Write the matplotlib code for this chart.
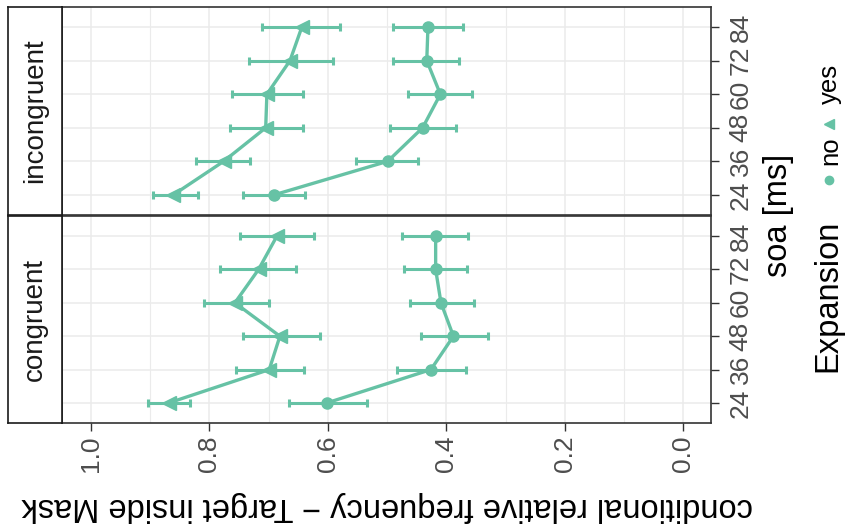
import matplotlib.pyplot as plt
from matplotlib.lines import Line2D
import numpy as np

plt.rcParams['font.family'] = ['Liberation Sans', 'DejaVu Sans']

# data (chart is drawn rotated: frequency runs right-to-left, soa bottom-to-top)
soa = ['24', '36', '48', '60', '72', '84']
conditions = ['congruent', 'incongruent']

cong_yes = [0.869, 0.699, 0.681, 0.757, 0.717, 0.686]
cong_yes_lo = [0.832, 0.640, 0.614, 0.700, 0.654, 0.623]
cong_yes_hi = [0.904, 0.756, 0.744, 0.809, 0.782, 0.749]
cong_no = [0.602, 0.426, 0.388, 0.409, 0.418, 0.418]
cong_no_lo = [0.534, 0.367, 0.330, 0.354, 0.365, 0.363]
cong_no_hi = [0.666, 0.484, 0.443, 0.462, 0.472, 0.475]

incong_yes = [0.861, 0.776, 0.705, 0.703, 0.664, 0.644]
incong_yes_lo = [0.820, 0.731, 0.642, 0.642, 0.592, 0.579]
incong_yes_hi = [0.896, 0.823, 0.766, 0.762, 0.734, 0.711]
incong_no = [0.691, 0.499, 0.440, 0.410, 0.433, 0.431]
incong_no_lo = [0.639, 0.447, 0.383, 0.356, 0.378, 0.371]
incong_no_hi = [0.743, 0.552, 0.495, 0.464, 0.490, 0.490]

panels = {
    'congruent': [(cong_no, cong_no_lo, cong_no_hi, 'o'),
                  (cong_yes, cong_yes_lo, cong_yes_hi, '<')],
    'incongruent': [(incong_no, incong_no_lo, incong_no_hi, 'o'),
                    (incong_yes, incong_yes_lo, incong_yes_hi, '<')],
}

col = '#66C2A5'
W, H = 848, 529

fig = plt.figure(figsize=(W / 100, H / 100), dpi=100)


def px(x0, y0, x1, y1):
    # pixel box -> figure fraction
    return [x0 / W, 1 - y1 / H, (x1 - x0) / W, (y1 - y0) / H]


boxes = {'incongruent': (7, 215), 'congruent': (216, 423)}
pos = np.arange(1, len(soa) + 1)

for cond in conditions:
    y0, y1 = boxes[cond]
    ax = fig.add_axes(px(62, y0, 711, y1))
    for mean, lo, hi, mk in panels[cond]:
        mean = np.array(mean)
        err = [mean - np.array(lo), np.array(hi) - mean]
        ax.errorbar(mean, pos, xerr=err, fmt='none', ecolor=col,
                    elinewidth=2.2, capsize=2.6, capthick=2.2, zorder=3)
        ax.plot(mean, pos, color=col, lw=2.4, marker=mk,
                ms=8 if mk == 'o' else 10, zorder=4)
    ax.set_xlim(1.049, -0.047)
    ax.set_ylim(0.4, 6.6)
    ax.set_xticks([1.0, 0.8, 0.6, 0.4, 0.2, 0.0])
    ax.set_xticks([0.9, 0.7, 0.5, 0.3, 0.1], minor=True)
    ax.set_yticks(pos)
    ax.set_yticklabels(soa, rotation=90, va='center')
    ax.yaxis.tick_right()
    ax.grid(True, which='major', color='#EBEBEB', lw=1.1, zorder=0)
    ax.grid(True, which='minor', axis='x', color='#EBEBEB', lw=0.8, zorder=0)
    ax.tick_params(axis='y', which='major', length=5.8, width=1, color='#333333',
                   labelcolor='#4D4D4D', labelsize=19, pad=7)
    ax.tick_params(axis='x', which='minor', length=0)
    if cond == 'congruent':
        ax.set_xticklabels(['1.0', '0.8', '0.6', '0.4', '0.2', '0.0'],
                           rotation=90, ha='center', va='top')
        ax.tick_params(axis='x', which='major', length=5.8, width=1, color='#333333',
                       labelcolor='#4D4D4D', labelsize=19, pad=3)
    else:
        ax.tick_params(axis='x', which='major', length=0, labelbottom=False)
    for s in ax.spines.values():
        s.set_color('#333333')
        s.set_linewidth(1.2)
    ax.set_axisbelow(True)

    # strip
    sx = fig.add_axes(px(8, y0, 62, y1))
    sx.set_xticks([])
    sx.set_yticks([])
    for s in sx.spines.values():
        s.set_color('#1A1A1A')
        s.set_linewidth(1.2)
    sx.text(0.5, 0.5, cond, rotation=90, ha='center', va='center',
            fontsize=20, color='#1A1A1A', transform=sx.transAxes)

fig.text(387 / W, 1 - 506 / H, 'conditional relative frequency \u2212 Target inside Mask',
         rotation=180, ha='center', va='center', fontsize=23.5, color='black')
fig.text(779 / W, 1 - 215 / H, 'soa [ms]', rotation=90, ha='center', va='center',
         fontsize=23.5, color='black')

# legend (rotated)
lx = 828 / W
fig.text(lx, 1 - 372 / H, 'Expansion', rotation=90, ha='center', va='bottom',
         fontsize=23.5, color='black')
fig.add_artist(Line2D([lx + 1 / W], [1 - 180 / H], transform=fig.transFigure,
                      marker='o', ms=6, color=col, lw=0))
fig.text(lx + 2 / W, 1 - 165 / H, 'no', rotation=90, ha='center', va='bottom',
         fontsize=18.5, color='black')
fig.add_artist(Line2D([lx + 1 / W], [1 - 124 / H], transform=fig.transFigure,
                      marker='<', ms=7, color=col, lw=0))
fig.text(lx + 2 / W, 1 - 104 / H, 'yes', rotation=90, ha='center', va='bottom',
         fontsize=18.5, color='black')

fig.savefig('out.png', dpi=100)
